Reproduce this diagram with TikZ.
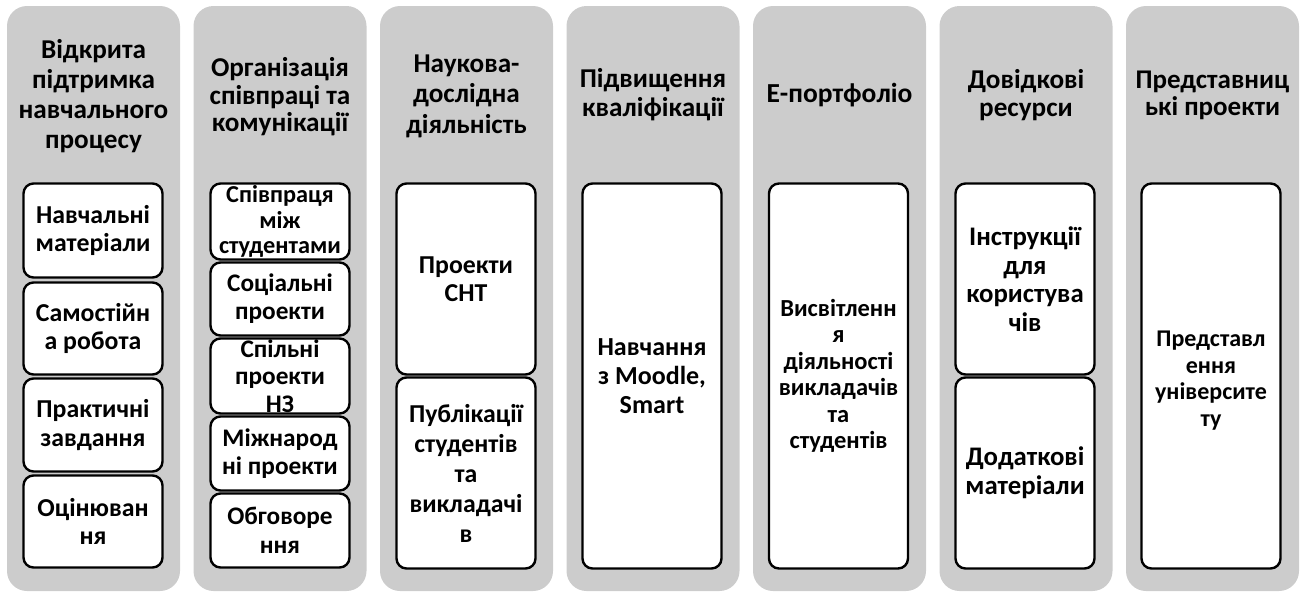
\documentclass[tikz,border=0pt]{standalone}
\usepackage{fontspec}
\setmainfont{Carlito}
\definecolor{colgray}{RGB}{204,204,204}
\newcommand\fsz[2]{\bfseries\fontsize{#1}{#2}\selectfont}
\tikzset{
  column/.style={fill=colgray, rounded corners=20pt, minimum width=173pt, minimum height=585pt, inner sep=0pt},
  ttl/.style={align=center, inner sep=0pt, text=black},
  itembox/.style={draw=black, line width=2.4pt, fill=white, rounded corners=10pt, minimum width=139pt, inner sep=0pt, align=center, text=black},
}
\begin{document}
\begin{tikzpicture}[x=1pt,y=-1pt]
\useasboundingbox (0,0) rectangle (1304,595);
% columns
\foreach \i/\cx in {1/93.5,2/280,3/466.5,4/653,5/839.5,6/1026,7/1212.5}{
  \node[column] (col\i) at (\cx,298.5) {};
}
% titles
\node[ttl, font=\fsz{27.2}{30}] (t1) at (93.5,96) {Відкрита\\підтримка\\навчального\\процесу};
\node[ttl, font=\fsz{27.2}{27.5}] (t2) at (280,97) {Організація\\співпраці та\\комунікації};
\node[ttl, font=\fsz{27.2}{30.5}] (t3) at (466.5,96) {Наукова-\\дослідна\\діяльність};
\node[ttl, font=\fsz{27.2}{29}] (t4) at (653,95) {Підвищення\\кваліфікації};
\node[ttl, font=\fsz{27.5}{30}] (t5) at (839.5,95) {Е-портфоліо};
\node[ttl, font=\fsz{27.2}{27.5}] (t6) at (1026,95) {Довідкові\\ресурси};
\node[ttl, font=\fsz{27}{27}] (t7) at (1212.5,95) {Представниц\\ькі проекти};
% column 1
\node[itembox, minimum height=94pt, font=\fsz{25.8}{28.5}] (a1) at (93,230.5) {Навчальні\\матеріали};
\node[itembox, minimum height=92pt, font=\fsz{25.8}{28.5}] (a2) at (93,328.5) {Самостійн\\а робота};
\node[itembox, minimum height=93pt, font=\fsz{25.8}{28.5}] (a3) at (93,425) {Практичні\\завдання};
\node[itembox, minimum height=92pt, font=\fsz{25.8}{28.5}] (a4) at (93,521.5) {Оцінюван\\ня};
% column 2
\node[itembox, minimum height=76pt, font=\fsz{24.3}{25.5}] (b1) at (280,221.5) {Співпраця\\між\\студентами};
\node[itembox, minimum height=73pt, font=\fsz{25.3}{28}] (b2) at (280,299) {Соціальні\\проекти};
\node[itembox, minimum height=75pt, font=\fsz{25.3}{27.5}] (b3) at (280,376) {Спільні\\проекти\\НЗ};
\node[itembox, minimum height=74pt, font=\fsz{25.3}{28}] (b4) at (280,453.5) {Міжнарод\\ні проекти};
\node[itembox, minimum height=74pt, font=\fsz{25.3}{29}] (b5) at (280,530.5) {Обговоре\\ння};
% column 3
\node[itembox, minimum height=191pt, font=\fsz{25.8}{28}] (c1) at (466,279) {Проекти\\СНТ};
\node[itembox, minimum height=191pt, font=\fsz{25.8}{30}] (c2) at (466,473) {Публікації\\студентів\\та\\викладачі\\в};
% column 4
\node[itembox, minimum height=385pt, font=\fsz{26}{29}] (d1) at (652,376) {Навчання\\з Moodle,\\Smart};
% column 5
\node[itembox, minimum height=385pt, font=\fsz{24.5}{26.5}] (e1) at (838.5,376) {Висвітленн\\я\\діяльності\\викладачів\\та\\студентів};
% column 6
\node[itembox, minimum height=191pt, font=\fsz{26.8}{28.7}] (f1) at (1025,279) {Інструкції\\для\\користува\\чів};
\node[itembox, minimum height=191pt, font=\fsz{26.8}{28.7}] (f2) at (1025,473) {Додаткові\\матеріали};
% column 7
\node[itembox, minimum height=385pt, font=\fsz{24}{26.7}] (g1) at (1211,376) {\rule{0pt}{25pt}Представл\\ення\\університе\\ту};
\end{tikzpicture}
\end{document}
